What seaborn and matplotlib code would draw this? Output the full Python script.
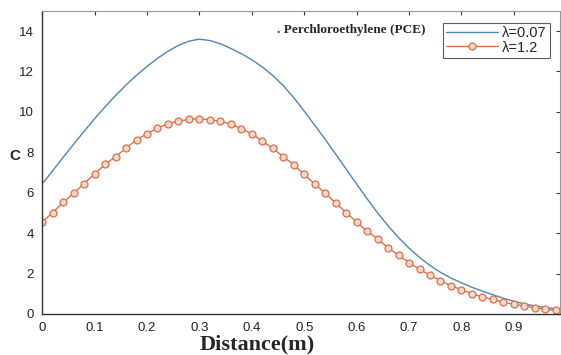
import numpy as np
import pandas as pd
import matplotlib
matplotlib.use("Agg")
import matplotlib.pyplot as plt
import seaborn as sns

# distance values (m)
distance = [round(0.02 * i, 2) for i in range(50)]

# lambda = 0.07
c_low = [6.43, 7.09, 7.75, 8.40, 9.04, 9.66, 10.25, 10.81, 11.33, 11.81,
         12.25, 12.65, 13.0, 13.29, 13.5, 13.6, 13.53, 13.37, 13.14, 12.88,
         12.58, 12.22, 11.8, 11.3, 10.7, 10.04, 9.34, 8.64, 7.91, 7.17,
         6.43, 5.70, 5.0, 4.36, 3.78, 3.26, 2.80, 2.40, 2.06, 1.78,
         1.54, 1.32, 1.13, 0.95, 0.78, 0.63, 0.50, 0.40, 0.32, 0.26]

# lambda = 1.2
c_high = [4.55, 5.02, 5.52, 5.98, 6.45, 6.94, 7.40, 7.79, 8.20, 8.63,
          8.91, 9.20, 9.41, 9.54, 9.63, 9.66, 9.61, 9.53, 9.40, 9.17,
          8.91, 8.56, 8.19, 7.79, 7.38, 6.91, 6.43, 5.98, 5.49, 5.02,
          4.55, 4.09, 3.72, 3.27, 2.91, 2.54, 2.21, 1.92, 1.65, 1.39,
          1.21, 1.00, 0.85, 0.72, 0.59, 0.48, 0.39, 0.31, 0.23, 0.18]

labels = ["\u03bb=0.07", "\u03bb=1.2"]
xticks = [0, 0.1, 0.2, 0.3, 0.4, 0.5, 0.6, 0.7, 0.8, 0.9]
xticklabels = ["0", "0.1", "0.2", "0.3", "0.4", "0.5", "0.6", "0.7", "0.8", "0.9"]
yticks = [0, 2, 4, 6, 8, 10, 12, 14]

sns.set_style("white")
plt.rcParams['font.family'] = ['Liberation Sans', 'DejaVu Sans']

fig = plt.figure(figsize=(5.61, 3.55), dpi=100)
ax = fig.add_axes([0.0752, 0.1155, 0.923, 0.854])

blue = "#5085b0"
orange = "#d9704a"

sns.lineplot(x=distance, y=c_low, ax=ax, color=blue, linewidth=1.0, label=labels[0])
sns.lineplot(x=distance, y=c_high, ax=ax, color=orange, linewidth=1.0,
             marker="o", markersize=5, markerfacecolor="#f3d9cc",
             markeredgecolor=orange, markeredgewidth=0.9, label=labels[1])

ax.set_xlim(0, 0.988)
ax.set_ylim(0, 15)
ax.set_xticks(xticks)
ax.set_xticklabels(xticklabels)
ax.set_yticks(yticks)
ax.tick_params(direction="in", length=3, width=0.8, colors="#333333",
               labelsize=9.5, top=True, right=True, pad=6)
for lab in ax.get_xticklabels() + ax.get_yticklabels():
    lab.set_color("#222222")

for side in ["left", "bottom"]:
    ax.spines[side].set_color("#333333")
    ax.spines[side].set_linewidth(1.0)
for side in ["top", "right"]:
    ax.spines[side].set_color("#999999")
    ax.spines[side].set_linewidth(0.8)

ax.set_xlabel("Distance(m)", family=["Liberation Serif"], fontweight="bold",
              fontsize=16, va="center")
ax.xaxis.set_label_coords(0.415, -0.10)
ax.set_ylabel("C", fontweight="bold", fontsize=11, rotation=0, va="center")
ax.yaxis.set_label_coords(-0.052, 0.52)

ax.text(0.448, 14.06, ". Perchloroethylene (PCE)", family=["Liberation Serif"],
        fontweight="bold", fontsize=9.5, va="center", ha="left")

leg = ax.legend(loc="upper right", bbox_to_anchor=(0.98, 0.96), fontsize=10.5,
                frameon=True, fancybox=False, handlelength=3.6,
                borderpad=0.2, labelspacing=0.05, handletextpad=0.25,
                borderaxespad=0)
leg.get_frame().set_edgecolor("#333333")
leg.get_frame().set_linewidth(0.8)

fig.savefig("out.png", dpi=100)
